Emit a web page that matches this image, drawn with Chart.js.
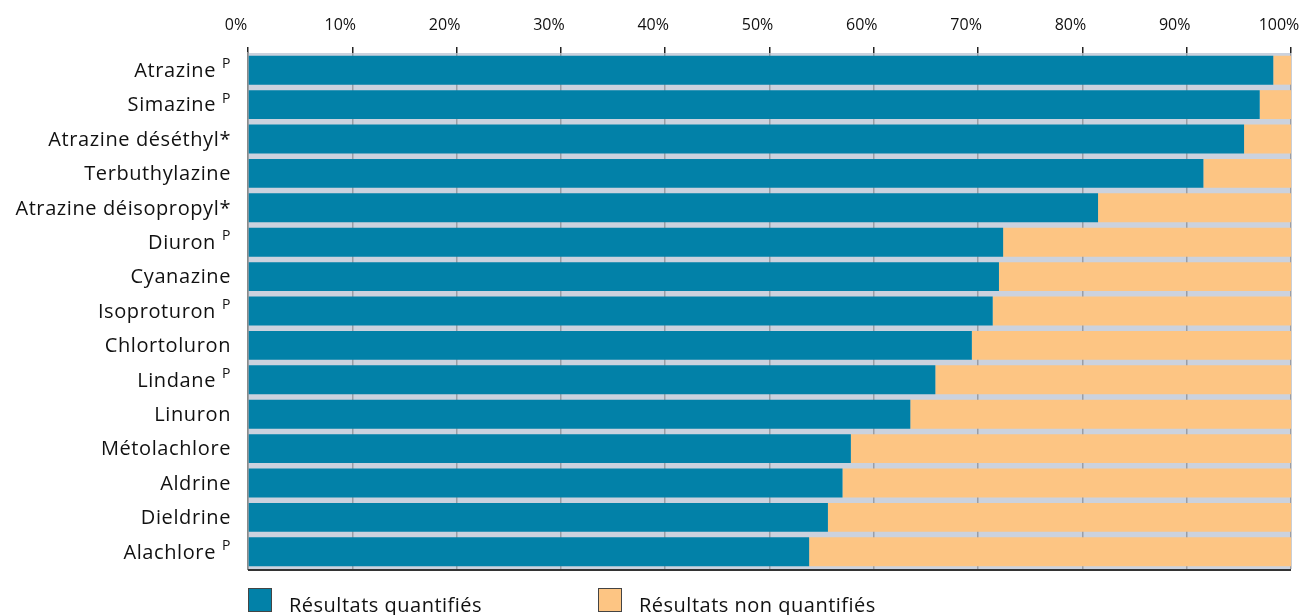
<!DOCTYPE html>
<html>
<head>
<meta charset="utf-8">
<script src="https://cdn.jsdelivr.net/npm/chart.js@4/dist/chart.umd.min.js"></script>
<style>
  html, body { margin: 0; padding: 0; background: #fff; }
  #wrap { position: relative; width: 1300px; height: 615px; }
</style>
</head>
<body>
<div id="wrap"><canvas id="chart" width="1300" height="615"></canvas></div>
<script>
// Data
const categories = [
  "Atrazine", "Simazine", "Atrazine déséthyl*", "Terbuthylazine",
  "Atrazine déisopropyl*", "Diuron", "Cyanazine", "Isoproturon",
  "Chlortoluron", "Lindane", "Linuron", "Métolachlore", "Aldrine",
  "Dieldrine", "Alachlore"
];
// superscript note after each name
const notes = ["P", "P", "", "", "", "P", "", "P", "", "P", "", "", "", "", "P"];
const quantifies = [98.3, 97.0, 95.5, 91.6, 81.5, 72.4, 72.0, 71.4, 69.4, 65.9, 63.5, 57.8, 57.0, 55.6, 53.8];
const nonQuantifies = [1.7, 3.0, 4.5, 8.4, 18.5, 27.6, 28.0, 28.6, 30.6, 34.1, 36.5, 42.2, 43.0, 44.4, 46.2];
const seriesNames = ["Résultats quantifiés", "Résultats non quantifiés"];
const xTicks = [0, 10, 20, 30, 40, 50, 60, 70, 80, 90, 100];

const blue = "#0281a8";
const orange = "#fdc583";
const fontFamily = "'Open Sans', 'Noto Sans', sans-serif";

// Plot background, bottom line, category labels with superscript, legend
const decor = {
  id: "decor",
  beforeDraw(chart) {
    const { ctx, chartArea: a } = chart;
    ctx.save();
    ctx.fillStyle = "#cbd2de";
    ctx.fillRect(a.left, a.top, a.right - a.left, a.bottom - a.top);
    ctx.restore();
  },
  afterDraw(chart) {
    const { ctx, chartArea: a } = chart;
    const yScale = chart.scales.y;
    ctx.save();
    ctx.strokeStyle = "#333";
    ctx.lineWidth = 2;
    ctx.beginPath();
    ctx.moveTo(a.left, a.bottom + 1);
    ctx.lineTo(a.right, a.bottom + 1);
    ctx.stroke();

    // category labels
    const right = a.left - 17;
    ctx.fillStyle = "#111";
    ctx.textAlign = "right";
    ctx.letterSpacing = "0.6px";
    chart.data.labels.forEach((name, i) => {
      const y = yScale.getPixelForTick(i);
      let x = right;
      if (notes[i]) {
        ctx.font = "14px " + fontFamily;
        ctx.textBaseline = "alphabetic";
        ctx.fillText(notes[i], x, y - 2);
        x -= ctx.measureText(notes[i]).width + 6;
      }
      ctx.font = "20px " + fontFamily;
      ctx.textBaseline = "middle";
      ctx.fillText(name, x, y + 1);
    });

    // legend
    const lx = [a.left, a.left + 350];
    ctx.textAlign = "left";
    ctx.letterSpacing = "0.5px";
    ctx.font = "20px " + fontFamily;
    ctx.textBaseline = "alphabetic";
    chart.data.datasets.forEach((ds, i) => {
      const x = lx[i];
      ctx.fillStyle = ds.backgroundColor;
      ctx.fillRect(x, 588, 24, 24);
      ctx.strokeStyle = "#444";
      ctx.lineWidth = 1;
      ctx.strokeRect(x + 0.5, 588.5, 23, 23);
      ctx.fillStyle = "#111";
      ctx.fillText(ds.label, x + 41, 612);
    });
    ctx.restore();
  }
};

new Chart(document.getElementById("chart").getContext("2d"), {
  type: "bar",
  data: {
    labels: categories,
    datasets: [
      { label: seriesNames[0], data: quantifies, backgroundColor: blue },
      { label: seriesNames[1], data: nonQuantifies, backgroundColor: orange }
    ]
  },
  options: {
    indexAxis: "y",
    responsive: false,
    animation: false,
    layout: { padding: { top: 0, right: 9, bottom: 46, left: 0 } },
    datasets: { bar: { barPercentage: 0.84, categoryPercentage: 1 } },
    plugins: { legend: { display: false }, tooltip: { enabled: false } },
    scales: {
      x: {
        position: "top",
        stacked: true,
        min: 0,
        max: 100,
        afterBuildTicks: s => { s.ticks = xTicks.map(v => ({ value: v })); },
        afterFit: s => { s.height = 53; s.paddingLeft = 0; s.paddingRight = 0; },
        border: { display: false },
        grid: { color: "#9a9ea6", lineWidth: 1.5, tickLength: 6, tickColor: "#222", tickWidth: 1.5 },
        ticks: {
          callback: v => v + "%",
          color: "#111",
          padding: 12,
          labelOffset: -12,
          maxRotation: 0,
          font: { family: fontFamily, size: 16 }
        }
      },
      y: {
        stacked: true,
        afterFit: s => { s.width = 248; },
        border: { display: true, color: "#8a8a8a", width: 1.5 },
        grid: { display: false, drawTicks: false },
        ticks: {
          color: "rgba(0,0,0,0)",
          padding: 17,
          font: { family: fontFamily, size: 20 }
        }
      }
    }
  },
  plugins: [decor]
});
</script>
</body>
</html>
